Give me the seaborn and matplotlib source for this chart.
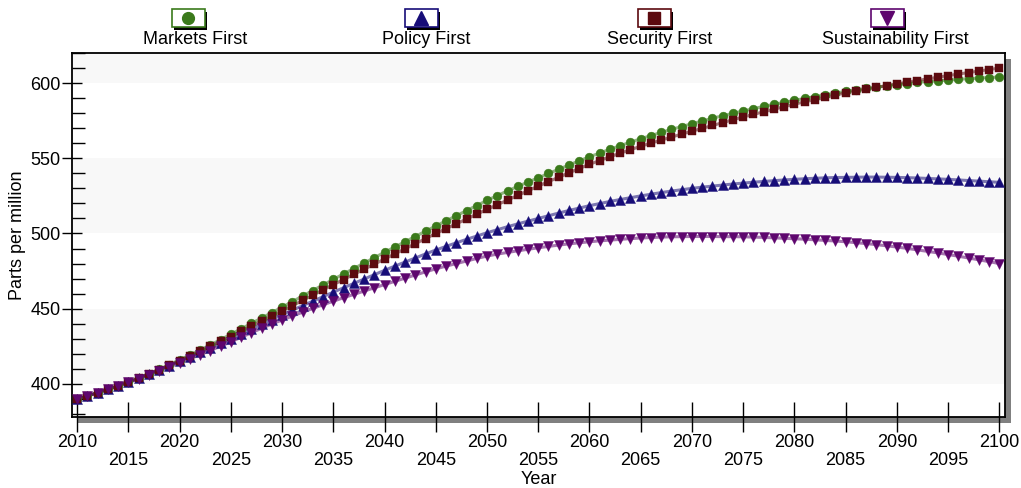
import numpy as np
import pandas as pd
import matplotlib
matplotlib.use("Agg")
import matplotlib.pyplot as plt
from matplotlib.patches import Rectangle
from matplotlib.lines import Line2D
from matplotlib.ticker import MultipleLocator
import seaborn as sns

# CO2 concentration by scenario, one value per year 2010-2100
years = list(range(2010, 2101))

markets_first = [
    390.0, 392.1, 394.2, 396.5, 398.9,
    401.5, 404.1, 406.8, 409.7, 412.8,
    416.0, 419.2, 422.5, 425.9, 429.4,
    433.0, 436.6, 440.2, 443.8, 447.4,
    451.0, 454.7, 458.4, 462.1, 465.8,
    469.5, 473.1, 476.7, 480.3, 483.9,
    487.5, 491.0, 494.5, 498.0, 501.5,
    505.0, 508.4, 511.8, 515.2, 518.6,
    522.0, 525.2, 528.3, 531.3, 534.2,
    537.0, 539.9, 542.7, 545.5, 548.3,
    551.0, 553.5, 556.0, 558.4, 560.7,
    563.0, 565.1, 567.2, 569.2, 571.1,
    573.0, 574.8, 576.6, 578.3, 579.9,
    581.5, 583.0, 584.5, 585.9, 587.2,
    588.5, 589.8, 591.0, 592.2, 593.4,
    594.5, 595.5, 596.4, 597.3, 598.2,
    599.0, 599.7, 600.4, 601.0, 601.5,
    602.0, 602.5, 602.9, 603.3, 603.7,
    604.0,
]

policy_first = [
    390.0, 392.0, 394.1, 396.3, 398.6,
    401.0, 403.6, 406.3, 409.1, 412.0,
    415.0, 418.0, 421.0, 424.0, 427.0,
    430.0, 433.2, 436.4, 439.6, 442.8,
    446.0, 449.0, 452.0, 455.0, 458.0,
    461.0, 463.9, 466.8, 469.7, 472.6,
    475.5, 478.3, 481.0, 483.7, 486.4,
    489.0, 491.4, 493.8, 496.1, 498.3,
    500.5, 502.5, 504.5, 506.4, 508.2,
    510.0, 511.8, 513.6, 515.3, 516.9,
    518.5, 519.9, 521.3, 522.6, 523.8,
    525.0, 526.1, 527.2, 528.2, 529.1,
    530.0, 530.8, 531.5, 532.2, 532.9,
    533.5, 534.1, 534.6, 535.1, 535.6,
    536.0, 536.4, 536.7, 537.0, 537.2,
    537.3, 537.4, 537.5, 537.5, 537.4,
    537.3, 537.1, 536.9, 536.6, 536.3,
    536.0, 535.6, 535.2, 534.8, 534.4,
    534.0,
]

security_first = [
    390.0, 392.1, 394.2, 396.4, 398.8,
    401.3, 403.9, 406.6, 409.4, 412.4,
    415.5, 418.6, 421.7, 424.9, 428.2,
    431.5, 434.9, 438.3, 441.7, 445.1,
    448.5, 452.0, 455.5, 459.0, 462.5,
    466.0, 469.4, 472.8, 476.2, 479.6,
    483.0, 486.4, 489.8, 493.2, 496.6,
    500.0, 503.2, 506.4, 509.6, 512.8,
    516.0, 519.1, 522.2, 525.3, 528.4,
    531.5, 534.5, 537.4, 540.3, 543.2,
    546.0, 548.5, 551.0, 553.4, 555.7,
    558.0, 560.1, 562.1, 564.1, 566.1,
    568.0, 569.9, 571.8, 573.7, 575.6,
    577.5, 579.2, 580.9, 582.6, 584.3,
    586.0, 587.5, 589.0, 590.5, 592.0,
    593.5, 594.7, 595.9, 597.1, 598.3,
    599.5, 600.6, 601.7, 602.8, 603.9,
    605.0, 606.0, 607.0, 608.0, 609.0,
    610.0,
]

sustainability_first = [
    390.0, 392.0, 394.1, 396.3, 398.6,
    401.0, 403.4, 405.9, 408.5, 411.2,
    414.0, 416.7, 419.4, 422.2, 425.1,
    428.0, 431.0, 434.0, 437.0, 439.8,
    442.5, 445.1, 447.7, 450.2, 452.6,
    455.0, 457.3, 459.5, 461.7, 463.9,
    466.0, 468.2, 470.3, 472.4, 474.5,
    476.5, 478.3, 480.0, 481.7, 483.4,
    485.0, 486.3, 487.4, 488.5, 489.5,
    490.5, 491.4, 492.3, 493.1, 493.8,
    494.5, 495.1, 495.6, 496.1, 496.6,
    497.0, 497.3, 497.6, 497.8, 497.9,
    498.0, 498.0, 498.0, 497.9, 497.9,
    497.8, 497.6, 497.4, 497.1, 496.8,
    496.5, 496.2, 495.8, 495.4, 495.0,
    494.5, 493.9, 493.3, 492.6, 491.8,
    491.0, 490.1, 489.1, 488.1, 487.1,
    486.0, 484.9, 483.7, 482.5, 481.3,
    480.0,
]

scenarios = ["Markets First", "Policy First", "Security First", "Sustainability First"]
colors = ["#3b7a1b", "#170d78", "#5c0a0f", "#5e066e"]
markers = ["o", "^", "s", "v"]
marker_sizes = [40, 52, 38, 52]

df = pd.DataFrame({
    "Year": years * 4,
    "ppm": markets_first + policy_first + security_first + sustainability_first,
    "Scenario": np.repeat(scenarios, len(years)),
})

sns.set_theme(style="white")
plt.rcParams["font.family"] = ["Liberation Sans", "DejaVu Sans"]
plt.rcParams["text.color"] = "black"
plt.rcParams["axes.labelcolor"] = "black"
plt.rcParams["xtick.color"] = "black"
plt.rcParams["ytick.color"] = "black"

W, H = 1021, 488
fig = plt.figure(figsize=(W / 100, H / 100), dpi=100)
fig.patch.set_facecolor("white")

# plot frame in pixels
L, R, T, B = 72, 1005, 53, 417
ax = fig.add_axes([L / W, 1 - B / H, (R - L) / W, (B - T) / H])

# drop shadow behind the frame
fig.add_artist(Rectangle(((L + 6) / W, 1 - (B + 6) / H), (R - L) / W, (B - T) / H,
                         transform=fig.transFigure, facecolor="#808080",
                         edgecolor="none", zorder=0))
ax.set_zorder(1)
ax.set_facecolor("white")

# alternating bands
for lo, hi in [(400, 450), (500, 550), (600, 630)]:
    ax.axhspan(lo, hi, color="#f8f8f8", zorder=0, lw=0)

palette = dict(zip(scenarios, colors))
sns.lineplot(data=df, x="Year", y="ppm", hue="Scenario", palette=palette,
             linewidth=2.2, alpha=0.55, legend=False, ax=ax, zorder=2)
for name, mk, ms in zip(scenarios, markers, marker_sizes):
    sub = df[df["Scenario"] == name]
    sns.scatterplot(data=sub, x="Year", y="ppm", color=palette[name], marker=mk,
                    s=ms, edgecolor=palette[name], linewidth=0.3, legend=False,
                    ax=ax, zorder=3)

ax.set_xlim(2009.5, 2100.55)
ax.set_ylim(378, 620)

for sp in ax.spines.values():
    sp.set_visible(True)
    sp.set_color("black")
    sp.set_linewidth(1.3)

# x ticks: decades on the first row, half-decades below
ax.set_xticks(list(range(2015, 2100, 10)), minor=True)
ax.set_xticklabels([str(y) for y in range(2015, 2100, 10)], minor=True)
ax.set_xticks(list(range(2010, 2101, 10)))
ax.set_xticklabels([str(y) for y in range(2010, 2101, 10)])
ax.tick_params(axis="x", which="major", direction="inout", length=22, width=1,
               color="black", labelcolor="black", labelsize=13, pad=1, bottom=True)
ax.tick_params(axis="x", which="minor", direction="inout", length=22, width=1,
               color="black", labelcolor="black", labelsize=13, pad=14, bottom=True)

# y ticks
ax.set_yticks([400, 450, 500, 550, 600])
ax.yaxis.set_minor_locator(MultipleLocator(10))
ax.tick_params(axis="y", which="major", direction="inout", length=14, width=1,
               color="black", labelcolor="black", labelsize=13, pad=1, left=True)
ax.tick_params(axis="y", which="minor", direction="in", length=9, width=1,
               color="black", left=True)

ax.set_xlabel("")
ax.set_ylabel("")
fig.text((L + R) / 2 / W, 1 - 480 / H, "Year", ha="center", va="center",
         fontsize=13, color="black")
fig.text(17 / W, 1 - 235 / H, "Parts per million", ha="center", va="center",
         rotation=90, fontsize=13, color="black")

# legend across the top: swatch box above each label
box_w, box_h = 33, 18
box_centers = [188, 421, 654, 887]
text_centers = [195, 426, 660, 895]
for name, col, mk, bx, tx in zip(scenarios, colors, markers, box_centers, text_centers):
    x0, y0 = bx - box_w / 2, 9
    fig.add_artist(Rectangle(((x0 + 2.5) / W, 1 - (y0 + box_h + 2.5) / H),
                             box_w / W, box_h / H, transform=fig.transFigure,
                             facecolor="black", edgecolor="none", zorder=5))
    fig.add_artist(Rectangle((x0 / W, 1 - (y0 + box_h) / H), box_w / W, box_h / H,
                             transform=fig.transFigure, facecolor="white",
                             edgecolor=col, linewidth=1.2, zorder=6))
    fig.add_artist(Line2D([bx / W], [1 - (y0 + box_h / 2) / H], marker=mk,
                          markersize=10 if mk in "^v" else 8.5, color=col,
                          markeredgecolor=col, linestyle="none",
                          transform=fig.transFigure, zorder=7))
    fig.text(tx / W, 1 - 39 / H, name, ha="center", va="center", fontsize=13,
             color="black")

fig.savefig("out.png", dpi=100, facecolor="white")
